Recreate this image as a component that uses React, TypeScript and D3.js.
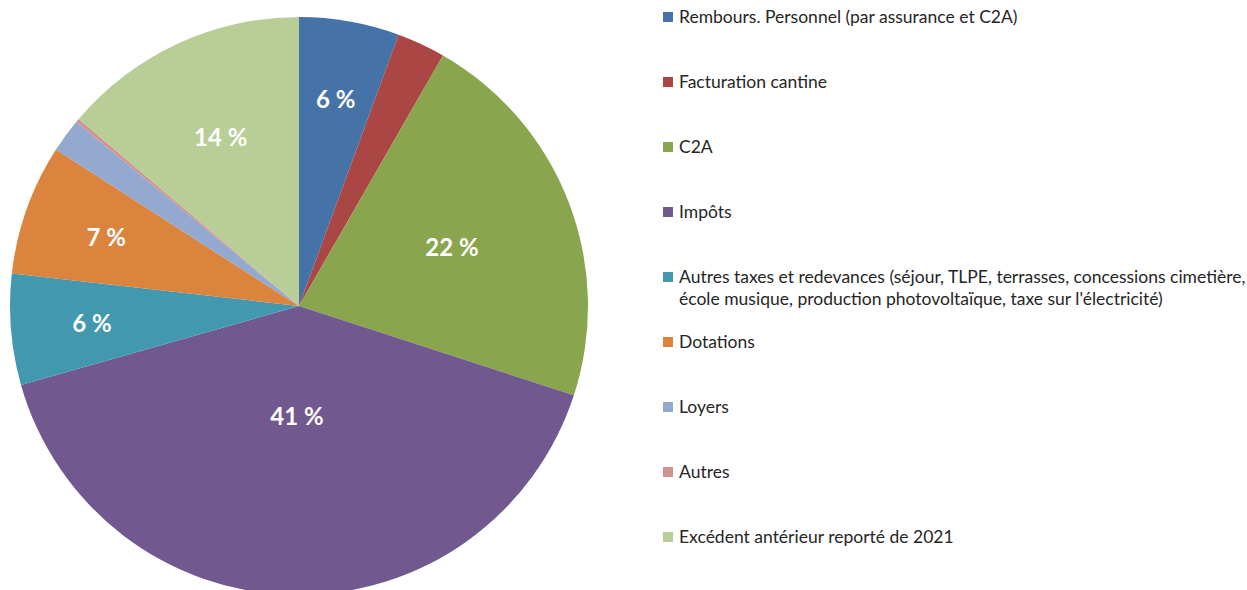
import React, { useEffect, useRef } from 'react';
import * as d3 from 'd3';

// categories, in drawing order (clockwise from 12 o'clock)
const categories = [
  'Rembours. Personnel (par assurance et C2A)',
  'Facturation cantine',
  'C2A',
  'Impôts',
  "Autres taxes et redevances (séjour, TLPE, terrasses, concessions cimetière,\nécole musique, production photovoltaïque, taxe sur l'électricité)",
  'Dotations',
  'Loyers',
  'Autres',
  'Excédent antérieur reporté de 2021',
];

// share of total, in percent
const shares = [5.6, 2.7, 21.7, 40.6, 6.2, 7.3, 1.9, 0.2, 13.8];

const colors = [
  '#4572A7', '#AA4643', '#89A54E', '#71588F', '#4198AF',
  '#DB843D', '#93A9CF', '#D19392', '#B9CD96',
];

type Slice = { name: string; value: number; color: string };

const App: React.FC = () => {
  const svgRef = useRef<SVGSVGElement>(null);

  useEffect(() => {
    if (!svgRef.current) return;
    const svg = d3.select(svgRef.current);
    svg.selectAll('*').remove();

    const width = 1247;
    const height = 590;
    const cx = 299;
    const cy = 306;
    const radius = 289;
    const font = 'Lato, "Open Sans", sans-serif';

    svg.attr('width', width).attr('height', height).attr('viewBox', `0 0 ${width} ${height}`);

    const data: Slice[] = categories.map((name, i) => ({ name, value: shares[i], color: colors[i] }));
    const total = d3.sum(shares);

    const pie = d3.pie<Slice>().sort(null).value(d => d.value);
    const arcs = pie(data);
    const arc = d3.arc<d3.PieArcDatum<Slice>>().innerRadius(0).outerRadius(radius);

    const g = svg.append('g').attr('transform', `translate(${cx},${cy})`);

    g.selectAll('path')
      .data(arcs)
      .enter()
      .append('path')
      .attr('d', arc)
      .attr('fill', d => d.data.color);

    // labels: bigger slices get their label closer to the centre (Excel "best fit")
    g.selectAll('.label')
      .data(arcs.filter(d => d.data.value / total >= 0.05))
      .enter()
      .append('text')
      .attr('class', 'label')
      .attr('transform', d => {
        const pct = (d.data.value / total) * 100;
        const r = radius * (0.78 - 0.0098 * pct);
        const a = (d.startAngle + d.endAngle) / 2;
        return `translate(${Math.sin(a) * r},${-Math.cos(a) * r})`;
      })
      .attr('text-anchor', 'middle')
      .attr('dy', '0.36em')
      .attr('fill', '#fff')
      .attr('font-family', font)
      .attr('font-weight', 'bold')
      .attr('font-size', 24)
      .text(d => `${Math.round((d.data.value / total) * 100)} %`);

    // legend
    const legendY = d3.scaleLinear().domain([0, categories.length - 1]).range([17, 537]);
    const legend = svg.append('g').attr('transform', 'translate(663,0)');

    const items = legend.selectAll('.item')
      .data(data)
      .enter()
      .append('g')
      .attr('class', 'item')
      .attr('transform', (_d, i) => `translate(0,${legendY(i)})`);

    items.append('rect')
      .attr('x', 0)
      .attr('y', -5)
      .attr('width', 10)
      .attr('height', 10)
      .attr('fill', d => d.color);

    items.append('text')
      .attr('font-family', font)
      .attr('font-size', 17.5)
      .attr('fill', '#262626')
      .selectAll('tspan')
      .data(d => d.name.split('\n'))
      .enter()
      .append('tspan')
      .attr('x', 16)
      .attr('y', (_d, j) => j * 22)
      .attr('dy', '0.35em')
      .text(d => d);
  }, []);

  return (
    <div style={{ position: 'absolute', left: 0, top: 0 }}>
      <svg ref={svgRef} style={{ display: 'block' }}></svg>
    </div>
  );
};

export default App;
